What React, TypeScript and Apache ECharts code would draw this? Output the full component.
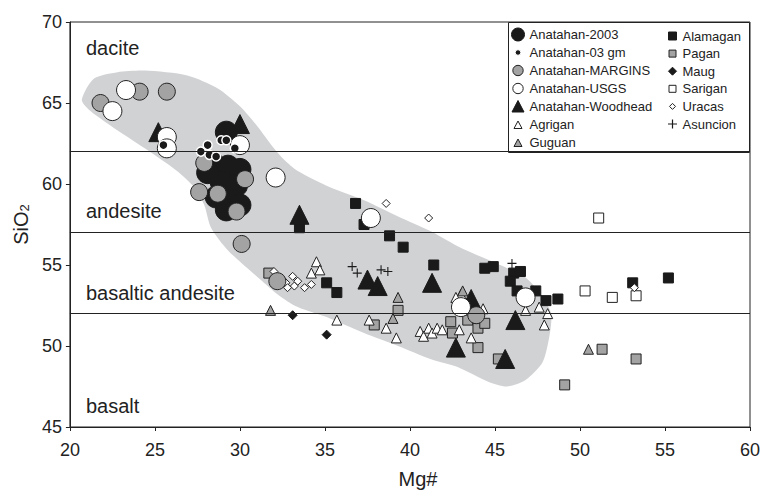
import React, { useEffect, useRef } from "react";
import * as echarts from "echarts";

// ---------- data ----------
const xTicks = [20, 25, 30, 35, 40, 45, 50, 55, 60];
const yTicks = [45, 50, 55, 60, 65, 70];
const boundaries = [62, 57, 52];
const rockTypes = ["dacite", "andesite", "basaltic andesite", "basalt"];

const regionX = [20.7, 21.4, 22.8, 24.4, 26.9, 28.7, 30.0, 31.0, 32.0, 32.6, 33.4, 35.3, 37.3, 39.3, 41.2, 43.1, 45.1, 46.7, 47.7, 48.3, 48.2, 47.8, 46.8, 45.7, 44.6, 42.8, 41.2, 39.3, 37.3, 35.3, 33.4, 32.2, 31.2, 29.3, 28.3, 27.9, 27.3, 26.3, 24.4, 22.4, 21.1];
const regionY = [65.2, 66.5, 66.9, 67.0, 66.7, 65.9, 64.8, 63.6, 62.2, 61.5, 60.8, 59.8, 59.0, 58.0, 57.1, 56.0, 55.1, 54.3, 53.2, 52.0, 50.6, 49.0, 47.9, 47.5, 47.8, 48.7, 49.2, 50.0, 50.8, 51.7, 52.4, 53.2, 54.1, 55.9, 57.3, 58.7, 59.8, 60.8, 62.2, 63.6, 64.6];

const anatahan2003 = [[29.2, 63.2], [28.4, 61.3], [29.3, 61.1], [30.0, 60.9], [28.9, 60.1], [29.8, 59.9], [28.6, 59.2], [29.5, 59.0], [29.2, 58.4], [30.0, 58.7], [28.1, 60.7]];
const anatahan03gm = [[25.5, 62.4], [27.7, 62.0], [28.1, 62.4], [28.2, 61.8], [28.6, 61.7], [28.9, 62.7], [29.2, 62.7], [29.7, 62.2]];
const anatahanMargins = [[21.8, 65.0], [24.1, 65.7], [25.7, 65.7], [27.9, 61.3], [30.3, 60.3], [27.6, 59.5], [28.7, 59.4], [29.8, 58.3], [30.1, 56.3], [32.2, 54.0], [43.9, 51.9]];
const anatahanUsgs = [[23.3, 65.8], [22.5, 64.5], [25.7, 62.9], [25.7, 62.2], [30.0, 62.4], [32.1, 60.4], [37.7, 57.9], [43.0, 52.4], [46.8, 53.0]];
const anatahanWoodhead = [[25.2, 63.2], [30.0, 63.7], [33.5, 58.1], [37.5, 54.1], [38.1, 53.7], [41.3, 53.9], [42.7, 49.9], [43.6, 52.9], [46.2, 51.6], [45.6, 49.2]];
const agrigan = [[34.5, 55.2], [34.2, 54.5], [34.7, 54.7], [35.7, 51.6], [38.6, 51.1], [39.2, 50.5], [37.6, 51.6], [40.6, 50.9], [40.8, 50.6], [41.1, 51.1], [41.3, 50.8], [41.6, 51.1], [41.9, 51.0], [43.0, 53.2], [43.6, 50.5], [42.9, 51.0], [44.3, 52.3], [42.7, 53.0], [46.8, 52.2], [47.6, 52.4], [48.1, 52.0], [47.9, 51.3]];
const guguan = [[31.8, 52.2], [50.5, 49.8], [39.3, 53.0], [39.0, 51.7], [43.1, 53.4]];
const alamagan = [[33.5, 57.3], [36.8, 58.8], [37.3, 57.5], [38.8, 56.8], [39.6, 56.1], [41.4, 55.0], [35.1, 53.9], [35.7, 53.3], [44.4, 54.8], [44.9, 54.9], [46.1, 54.5], [46.5, 54.6], [45.9, 54.0], [46.3, 53.4], [47.4, 53.4], [48.0, 52.8], [48.7, 52.9], [53.1, 53.9], [55.2, 54.2]];
const pagan = [[31.7, 54.5], [39.3, 52.2], [37.9, 51.3], [42.4, 51.5], [42.5, 50.8], [43.4, 51.6], [44.0, 51.1], [44.4, 51.4], [44.0, 49.9], [45.2, 49.2], [51.3, 49.8], [53.3, 49.2], [49.1, 47.6]];
const maug = [[33.1, 51.9], [35.1, 50.7]];
const sarigan = [[51.1, 57.9], [50.3, 53.4], [51.9, 53.0], [53.3, 53.1]];
const uracas = [[38.6, 58.8], [41.1, 57.9], [53.2, 53.6], [32.0, 54.6], [32.7, 53.9], [32.8, 53.6], [33.1, 54.3], [33.2, 53.7], [33.4, 54.0], [33.8, 53.6], [34.2, 53.8]];
const asuncion = [[36.6, 54.9], [36.9, 54.5], [38.3, 54.7], [38.7, 54.6], [46.0, 55.1]];

const legendCol1 = ["Anatahan-2003", "Anatahan-03 gm", "Anatahan-MARGINS", "Anatahan-USGS", "Anatahan-Woodhead", "Agrigan", "Guguan"];
const legendCol2 = ["Alamagan", "Pagan", "Maug", "Sarigan", "Uracas", "Asuncion"];

// ---------- styles ----------
const FONT = "'Liberation Sans', Arial, Helvetica, sans-serif";
const INK = "#222";
const BLACK = "#1a1a1a";
const GREY = "#a3a3a3";
const PLUS = "path://M4.4,0H5.6V4.4H10V5.6H5.6V10H4.4V5.6H0V4.4H4.4Z";

const icons1: Record<string, string> = {
  "Anatahan-2003": "circle",
  "Anatahan-03 gm": "path://M0,0M13,13M6.5,3.7A2.8,2.8,0,1,1,6.5,9.3A2.8,2.8,0,1,1,6.5,3.7Z",
  "Anatahan-MARGINS": "path://M0,0M13,13M6.5,1.3A5.2,5.2,0,1,1,6.5,11.7A5.2,5.2,0,1,1,6.5,1.3Z",
  "Anatahan-USGS": "path://M0,0M13,13M6.5,1.3A5.2,5.2,0,1,1,6.5,11.7A5.2,5.2,0,1,1,6.5,1.3Z",
  "Anatahan-Woodhead": "path://M0,0M13,13M6.5,0.5L12.5,12L0.5,12Z",
  Agrigan: "path://M0,0M13,13M6.5,3L10.5,10.5L2.5,10.5Z",
  Guguan: "path://M0,0M13,13M6.5,3L10.5,10.5L2.5,10.5Z",
};
const icons2: Record<string, string> = {
  Alamagan: "path://M0,0M10,10M1,1H9V9H1Z",
  Pagan: "path://M0,0M10,10M1.5,1.5H8.5V8.5H1.5Z",
  Maug: "path://M0,0M10,10M5,1L9,5L5,9L1,5Z",
  Sarigan: "path://M0,0M10,10M1.5,1.5H8.5V8.5H1.5Z",
  Uracas: "path://M0,0M10,10M5,2L8,5L5,8L2,5Z",
  Asuncion: "path://M0,0M10,10M4.4,0.5H5.6V4.4H9.5V5.6H5.6V9.5H4.4V5.6H0.5V4.4H4.4Z",
};

function sc(name: string, data: number[][], symbol: string, size: number, fill: string, stroke: string, bw: number) {
  return {
    type: "scatter",
    name,
    data,
    symbol,
    symbolSize: size,
    itemStyle: { color: fill, borderColor: stroke, borderWidth: bw, opacity: 1 },
    emphasis: { disabled: true },
    z: 3,
  };
}

export default function App() {
  const ref = useRef<HTMLDivElement>(null);
  useEffect(() => {
    if (!ref.current) return;
    const chart = echarts.init(ref.current, undefined, { renderer: "svg" });
    const textStyle = { fontFamily: FONT, color: INK };
    const labelX = 86;
    const labelYs = [48, 210.5, 292.7, 406];
    const option: any = {
      animation: false,
      textStyle: { fontFamily: FONT },
      grid: { left: 69, right: 17, top: 22, bottom: 62, show: true, borderColor: INK, borderWidth: 1, backgroundColor: "transparent" },
      xAxis: {
        type: "value",
        min: xTicks[0],
        max: xTicks[xTicks.length - 1],
        interval: 5,
        name: "Mg#",
        nameLocation: "middle",
        nameGap: 42,
        nameTextStyle: { ...textStyle, fontSize: 20, padding: [0, 0, 0, 16] },
        axisLine: { show: true, onZero: false, lineStyle: { color: INK, width: 1 } },
        axisTick: { show: true, length: 4, lineStyle: { color: INK } },
        axisLabel: { ...textStyle, fontSize: 18, margin: 14 },
        splitLine: { show: false },
      },
      yAxis: {
        type: "value",
        min: yTicks[0],
        max: yTicks[yTicks.length - 1],
        interval: 5,
        name: "{a|SiO}{b|2}",
        nameLocation: "middle",
        nameGap: 34,
        nameRotate: 90,
        nameTextStyle: {
          ...textStyle,
          rich: {
            a: { fontFamily: FONT, color: INK, fontSize: 20, lineHeight: 20, verticalAlign: "top" },
            b: { fontFamily: FONT, color: INK, fontSize: 13, lineHeight: 13, verticalAlign: "bottom", padding: [10, 0, 0, 0] },
          },
        },
        axisLine: { show: true, onZero: false, lineStyle: { color: INK, width: 1 } },
        axisTick: { show: true, length: 4, lineStyle: { color: INK } },
        axisLabel: { ...textStyle, fontSize: 18, margin: 8 },
        splitLine: { show: false },
      },
      legend: [
        {
          data: legendCol1.map((n) => ({ name: n, icon: icons1[n] })),
          orient: "vertical",
          left: 511,
          top: 27.5,
          itemWidth: 13,
          itemHeight: 13,
          itemGap: 4,
          padding: 0,
          selectedMode: false,
          itemStyle: { borderWidth: 1 },
          textStyle: { ...textStyle, fontSize: 13, lineHeight: 13 },
        },
        {
          data: legendCol2.map((n) => ({ name: n, icon: icons2[n], itemStyle: n === "Asuncion" ? { borderWidth: 0 } : undefined })),
          orient: "vertical",
          left: 667,
          top: 29.5,
          itemWidth: 10,
          itemHeight: 10,
          itemGap: 4.6,
          padding: 0,
          selectedMode: false,
          itemStyle: { borderWidth: 1 },
          textStyle: { ...textStyle, fontSize: 13, lineHeight: 13 },
        },
      ],
      graphic: [
        {
          type: "rect",
          z: 0,
          shape: { x: 508.5, y: 22.5, width: 241, height: 130 },
          style: { fill: "#fff", stroke: INK, lineWidth: 1 },
          silent: true,
        },
        ...rockTypes.map((t, i) => ({
          type: "text",
          x: labelX,
          y: labelYs[i],
          z: 5,
          silent: true,
          style: { text: t, fontFamily: FONT, fontSize: 20, fill: INK, verticalAlign: "middle" },
        })),
      ],
      series: [
        {
          type: "custom",
          name: "field",
          data: [[regionX[0], regionY[0]]],
          z: 1,
          silent: true,
          renderItem: (_params: any, api: any) => {
            const pts = regionX.map((x, i) => api.coord([x, regionY[i]]));
            return { type: "polygon", shape: { points: pts, smooth: 0.25 }, style: { fill: "#d1d2d4", stroke: "none" } };
          },
          markLine: {
            silent: true,
            symbol: ["none", "none"],
            label: { show: false },
            lineStyle: { color: INK, width: 1, type: "solid" },
            emphasis: { disabled: true },
            data: boundaries.map((v) => ({ yAxis: v })),
          },
        },
        sc("Alamagan", alamagan, "rect", 10, BLACK, BLACK, 1),
        sc("Pagan", pagan, "rect", 10, GREY, INK, 1),
        sc("Agrigan", agrigan, "triangle", 10, "#fff", INK, 1),
        sc("Guguan", guguan, "triangle", 10, GREY, INK, 1),
        sc("Maug", maug, "diamond", 9, BLACK, BLACK, 1),
        sc("Sarigan", sarigan, "rect", 10, "#fff", INK, 1),
        sc("Uracas", uracas, "diamond", 8, "#fff", INK, 1),
        sc("Asuncion", asuncion, PLUS, 9, BLACK, BLACK, 0),
        sc("Anatahan-Woodhead", anatahanWoodhead, "triangle", 19, BLACK, BLACK, 1),
        sc("Anatahan-2003", anatahan2003, "circle", 22, BLACK, BLACK, 1),
        sc("Anatahan-MARGINS", anatahanMargins, "circle", 17, GREY, INK, 1),
        sc("Anatahan-USGS", anatahanUsgs, "circle", 19, "#fff", INK, 1),
        sc("Anatahan-03 gm", anatahan03gm, "circle", 9, BLACK, "#fff", 1.5),
      ],
    };
    chart.setOption(option);
    return () => chart.dispose();
  }, []);
  return <div ref={ref} style={{ position: "absolute", left: 0, top: 0, width: 767, height: 494 }} />;
}
